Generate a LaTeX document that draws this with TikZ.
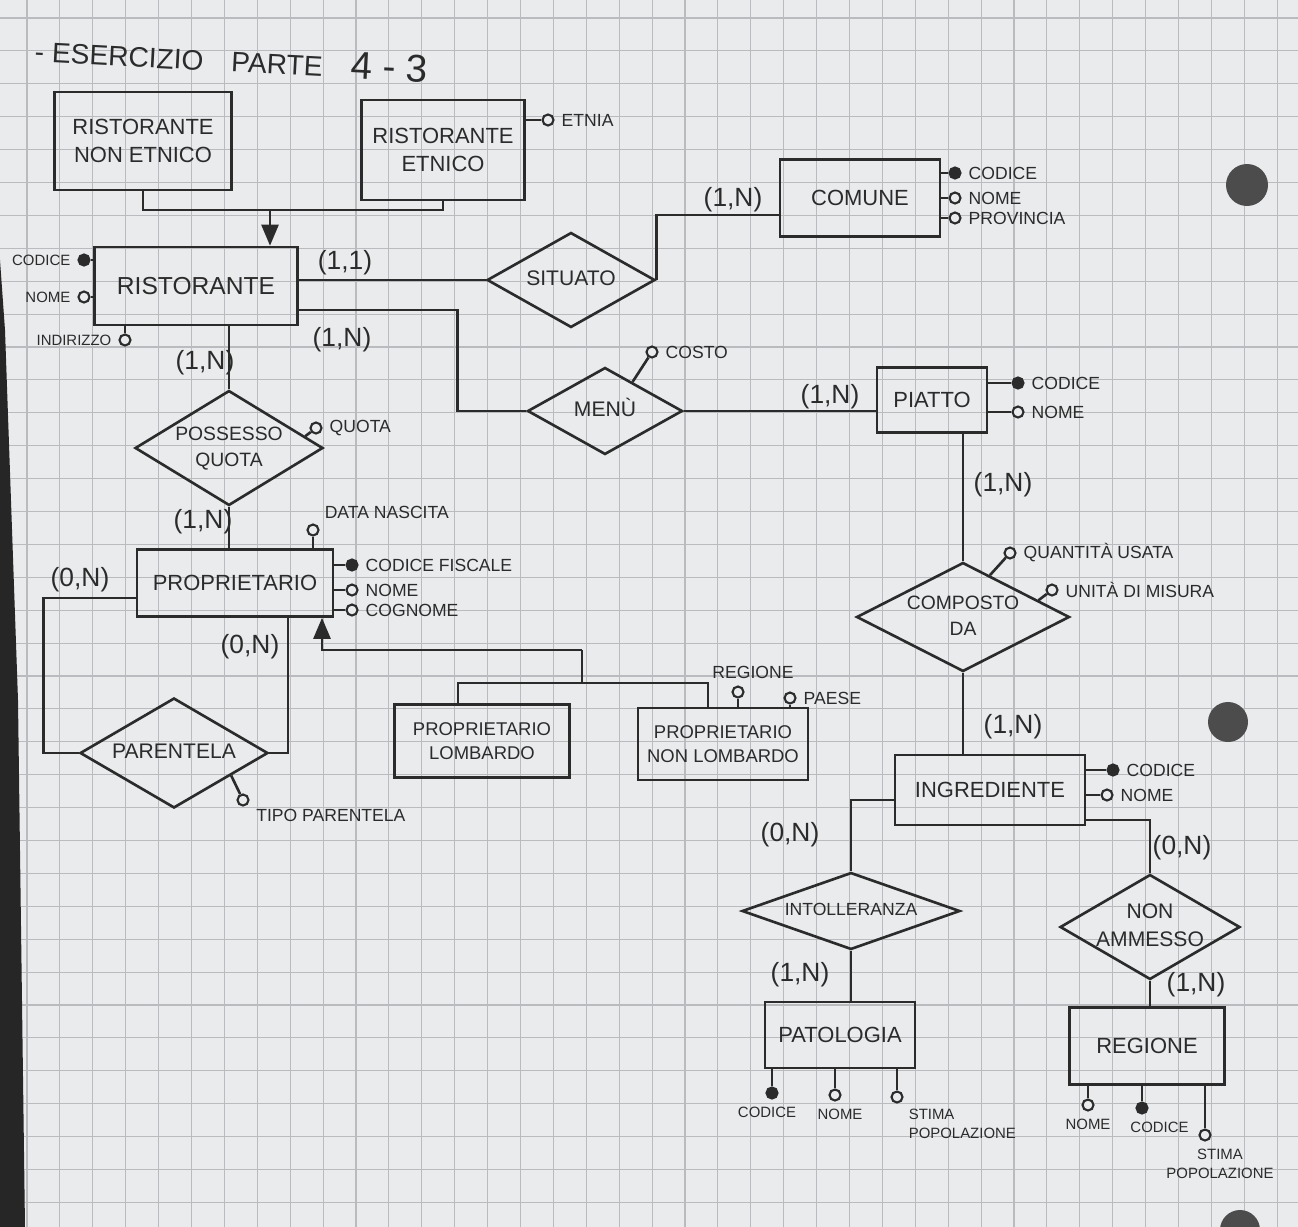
\documentclass[tikz,border=0pt]{standalone}
\usepackage{fontspec}
\setmainfont{Liberation Sans}
\usetikzlibrary{shapes.geometric,arrows.meta,calc}
\definecolor{ink}{HTML}{2B2B2B}
\definecolor{paper}{HTML}{E9EBED}
\definecolor{gridc}{HTML}{B9BBBE}
\newcommand{\dt}[1]{\makebox[0pt]{\begin{tabular}{@{}c@{}}#1\end{tabular}}}
\newcommand{\sm}{\fontsize{8.5}{11}\selectfont}

\begin{document}
\begin{tikzpicture}[x=0.02cm, y=-0.02cm, line width=1.5pt, color=ink,
	ent/.style={draw, rectangle, inner sep=0pt, align=center, font=\fontsize{12.5}{16}\selectfont},
	rel/.style={draw, diamond, inner sep=0pt, font=\fontsize{12}{16}\selectfont},
	attr/.style={draw, circle, fill=paper, inner sep=0pt, minimum size=0.22cm, line width=1.2pt,
		label distance=0pt, every label/.style={font=\fontsize{10}{12}\selectfont, inner sep=2pt}},
	key/.style={attr, fill=ink},
	card/.style={font=\fontsize{15}{15}\selectfont}]
		\useasboundingbox (0,0) rectangle (1298,1227);
		\fill[paper] (0,0) rectangle (1298,1227);
		\foreach \i in {0,...,39} \draw[gridc, line width=0.6pt] (27+\i*32.9,0) -- (27+\i*32.9,1227);
		\foreach \i in {0,...,37} \draw[gridc, line width=0.6pt] (0,18+\i*32.9) -- (1298,18+\i*32.9);
		\fill[black!85] (0,260) -- (5,330) -- (18,700) -- (25,1227) -- (0,1227) -- cycle;
		\fill[black!70] (1247,185) circle (0.42cm);
		\fill[black!70] (1228,722) circle (0.4cm);
		\fill[black!70] (1240,1230) circle (0.4cm);
		
		\node[font=\fontsize{16}{16}\selectfont, anchor=west, rotate=-3] (title) at (28,48) {- ESERCIZIO\quad PARTE\quad {\fontsize{22}{22}\selectfont 4 - 3}};
		
		\node[ent, minimum width=3.54cm, minimum height=1.96cm] (rne) at (143,141) {RISTORANTE\\NON ETNICO};
		\node[ent, minimum width=3.26cm, minimum height=2cm] (re) at (443,150) {RISTORANTE\\ETNICO};
		\node[ent, minimum width=4.06cm, minimum height=1.56cm, font=\fontsize{14}{16}\selectfont] (rist) at (196,286) {RISTORANTE};
		\node[ent, minimum width=3.2cm, minimum height=1.54cm] (comune) at (860,198) {COMUNE};
		\node[ent, minimum width=2.2cm, minimum height=1.3cm] (piatto) at (932,400) {PIATTO};
		\node[ent, minimum width=3.92cm, minimum height=1.34cm] (prop) at (235,583) {PROPRIETARIO};
		\node[ent, minimum width=3.5cm, minimum height=1.46cm, font=\fontsize{10.5}{14}\selectfont] (plomb) at (482,741) {PROPRIETARIO\\LOMBARDO};
		\node[ent, minimum width=3.4cm, minimum height=1.44cm, font=\fontsize{10.5}{14}\selectfont] (pnlomb) at (723,744) {PROPRIETARIO\\NON LOMBARDO};
		\node[ent, minimum width=3.8cm, minimum height=1.4cm] (ingr) at (990,790) {INGREDIENTE};
		\node[ent, minimum width=3cm, minimum height=1.32cm] (patol) at (840,1035) {PATOLOGIA};
		\node[ent, minimum width=3.1cm, minimum height=1.54cm] (regione) at (1147,1046) {REGIONE};
		
		\node[rel, minimum width=3.36cm, minimum height=1.9cm] (situato) at (571,280) {\dt{SITUATO}};
		\node[rel, minimum width=3.1cm, minimum height=1.74cm] (menu) at (605,411) {\dt{MENÙ}};
		\node[rel, minimum width=3.76cm, minimum height=2.3cm, font=\fontsize{11}{15}\selectfont] (possesso) at (229,448) {\dt{POSSESSO\\QUOTA}};
		\node[rel, minimum width=3.76cm, minimum height=2.2cm] (parentela) at (174,753) {\dt{PARENTELA}};
		\node[rel, minimum width=4.26cm, minimum height=2.18cm, font=\fontsize{11}{15}\selectfont] (composto) at (963,617) {\dt{COMPOSTO\\DA}};
		\node[rel, minimum width=4.36cm, minimum height=1.54cm, font=\fontsize{10}{12}\selectfont] (intoll) at (851,911) {\dt{INTOLLERANZA}};
		\node[rel, minimum width=3.6cm, minimum height=2.1cm] (nonamm) at (1150,927) {\dt{NON\\AMMESSO}};
		
		\coordinate (isa1) at (270,210);
		\coordinate (isa2) at (582,650);
		\coordinate (isa3) at (582,683);
		\draw (rne.south) |- (isa1) -| (re.south);
		\draw[-{Triangle[length=0.42cm, width=0.34cm]}] (isa1) -- (rist.north -| isa1);
		\draw[-{Triangle[length=0.42cm, width=0.34cm]}] (isa2) -| ($(prop.south)+(87,0)$);
		\draw (isa2) -- (isa3);
		\draw ($(plomb.north)+(-24,0)$) |- (isa3) -| ($(pnlomb.north)+(-15,0)$);
		
		\draw (situato.west) -- (situato.west -| rist.east);
		\draw (situato.east) |- ($(comune.west)+(0,17)$);
		\draw ($(rist.east)+(0,24)$) -| ($(menu.west)-(69,0)$) -- (menu.west);
		\draw (menu.east) -- (menu.east -| piatto.west);
		\draw (composto.north) -- (composto.north |- piatto.south);
		\draw (composto.south) -- (composto.south |- ingr.north);
		\draw ($(ingr.west)+(0,10)$) -| (intoll.north);
		\draw ($(ingr.east)+(0,30)$) -| (nonamm.north);
		\draw (intoll.south) -- (intoll.south |- patol.north);
		\draw (nonamm.south) -- (nonamm.south |- regione.north);
		\draw (possesso.north) -- (possesso.north |- rist.south);
		\draw (possesso.south) -- (possesso.south |- prop.north);
		\draw ($(prop.west)+(0,15)$) -| ($(parentela.west)-(35,0)$) -- (parentela.west);
		\draw ($(prop.south)+(53,0)$) |- (parentela.east);
		
		\node[attr, label=right:ETNIA] (etnia) at (548,120) {};
		\node[key, label=right:CODICE] (ccod) at (955,173) {};
		\node[attr, label=right:NOME] (cnome) at (955,198) {};
		\node[attr, label=right:PROVINCIA] (cprov) at (955,218) {};
		\node[key, label={[font=\sm]left:CODICE}] (rcod) at (84,260) {};
		\node[attr, label={[font=\sm]left:NOME}] (rnome) at (84,297) {};
		\node[attr, label={[font=\sm]left:INDIRIZZO}] (rind) at (125,340) {};
		\node[attr, label=right:COSTO] (costo) at (652,352) {};
		\node[key, label=right:CODICE] (pcod) at (1018,383) {};
		\node[attr, label=right:NOME] (pnome) at (1018,412) {};
		\node[attr, label=right:QUOTA] (quota) at (316,428) {};
		\node[attr, label=above right:DATA NASCITA] (nasc) at (313,530) {};
		\node[key, label=right:CODICE FISCALE] (cf) at (352,565) {};
		\node[attr, label=right:NOME] (prnome) at (352,590) {};
		\node[attr, label=right:COGNOME] (cogn) at (352,610) {};
		\node[attr, label=-20:TIPO PARENTELA] (tipo) at (243,800) {};
		\node[attr, label={[xshift=0.3cm]above:REGIONE}] (preg) at (738,692) {};
		\node[attr, label=right:PAESE] (paese) at (790,698) {};
		\node[attr, label=right:QUANTITÀ USATA] (qta) at (1010,553) {};
		\node[attr, label=right:UNITÀ DI MISURA] (unita) at (1052,590) {};
		\node[key, label=right:CODICE] (icod) at (1113,770) {};
		\node[attr, label=right:NOME] (inome) at (1107,795) {};
		\node[key, label={[font=\sm, xshift=-0.1cm]below:CODICE}] (pacod) at (772,1093) {};
		\node[attr, label={[font=\sm, xshift=0.1cm]below:NOME}] (panome) at (835,1095) {};
		\node[attr, label={[font=\sm, align=left]below right:{STIMA\\POPOLAZIONE}}] (pastima) at (897,1097) {};
		\node[attr, label={[font=\sm]below:NOME}] (rgnome) at (1088,1105) {};
		\node[key, label={[font=\sm, xshift=0.35cm]below:CODICE}] (rgcod) at (1142,1108) {};
		\node[attr, label={[font=\sm, align=center, xshift=0.3cm]below:{STIMA\\POPOLAZIONE}}] (rgstima) at (1205,1135) {};
		
		\draw (re.east |- etnia) -- (etnia);
		\draw (comune.east |- ccod) -- (ccod);
		\draw (comune.east |- cnome) -- (cnome);
		\draw (comune.east |- cprov) -- (cprov);
		\draw (rist.west |- rcod) -- (rcod);
		\draw (rist.west |- rnome) -- (rnome);
		\draw (rist.south -| rind) -- (rind);
		\draw ($(menu.north)!0.35!(menu.east)$) -- (costo);
		\draw (piatto.east |- pcod) -- (pcod);
		\draw (piatto.east |- pnome) -- (pnome);
		\draw ($(possesso.north)!0.8!(possesso.east)$) -- (quota);
		\draw (prop.north -| nasc) -- (nasc);
		\draw (prop.east |- cf) -- (cf);
		\draw (prop.east |- prnome) -- (prnome);
		\draw (prop.east |- cogn) -- (cogn);
		\draw ($(parentela.east)!0.4!(parentela.south)$) -- (tipo);
		\draw (pnlomb.north -| preg) -- (preg);
		\draw (pnlomb.north -| paese) -- (paese);
		\draw ($(composto.north)!0.25!(composto.east)$) -- (qta);
		\draw ($(composto.north)!0.7!(composto.east)$) -- (unita);
		\draw (ingr.east |- icod) -- (icod);
		\draw (ingr.east |- inome) -- (inome);
		\draw (patol.south -| pacod) -- (pacod);
		\draw (patol.south -| panome) -- (panome);
		\draw (patol.south -| pastima) -- (pastima);
		\draw (regione.south -| rgnome) -- (rgnome);
		\draw (regione.south -| rgcod) -- (rgcod);
		\draw (regione.south -| rgstima) -- (rgstima);
		
		\node[card] (c1) at (345,263) {(1,1)};
		\node[card] (c2) at (733,200) {(1,N)};
		\node[card] (c3) at (342,340) {(1,N)};
		\node[card] (c4) at (830,397) {(1,N)};
		\node[card] (c5) at (205,363) {(1,N)};
		\node[card] (c6) at (203,522) {(1,N)};
		\node[card] (c7) at (80,580) {(0,N)};
		\node[card] (c8) at (250,647) {(0,N)};
		\node[card] (c9) at (1003,485) {(1,N)};
		\node[card] (c10) at (1013,727) {(1,N)};
		\node[card] (c11) at (790,835) {(0,N)};
		\node[card] (c12) at (1182,848) {(0,N)};
		\node[card] (c13) at (800,975) {(1,N)};
		\node[card] (c14) at (1196,985) {(1,N)};
\end{tikzpicture}
\end{document}
